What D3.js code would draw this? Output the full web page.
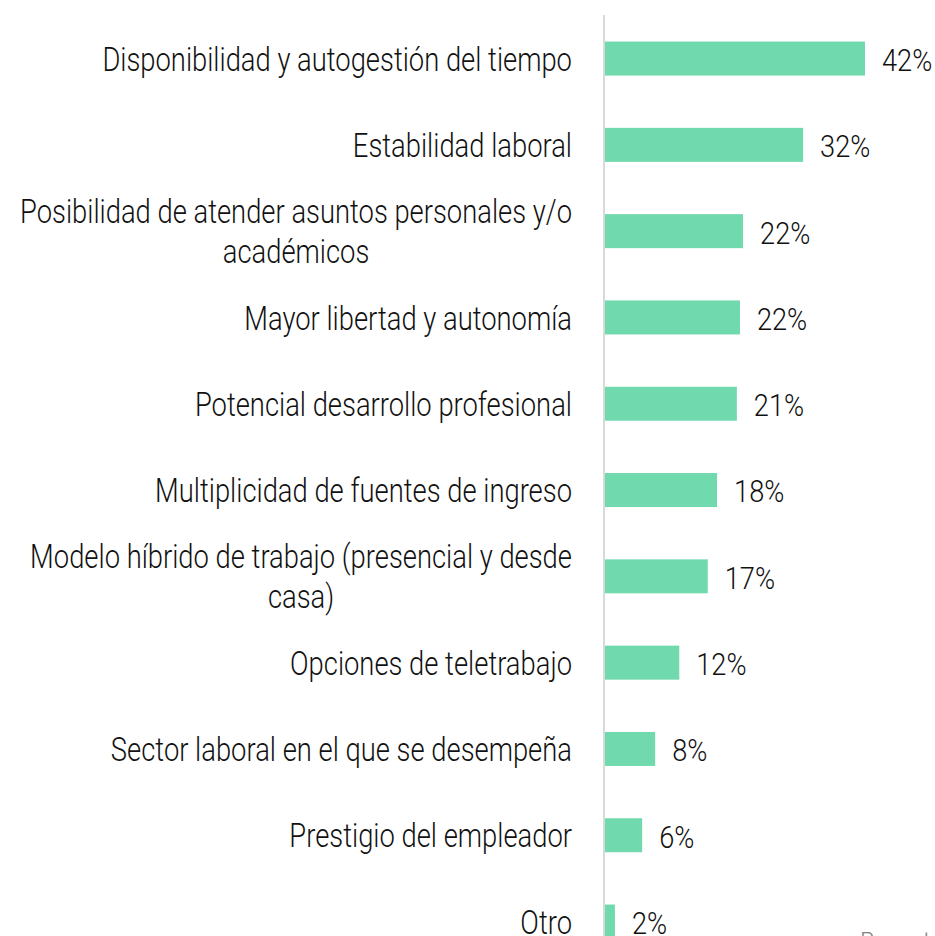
<!DOCTYPE html>
<html>
<head>
<meta charset="utf-8">
<script src="https://cdn.jsdelivr.net/npm/d3@7"></script>
<style>
  body { margin: 0; background: #fff; }
  svg text { font-family: Roboto, "Noto Sans", sans-serif; font-weight: 300; }
</style>
</head>
<body>
<div id="chart"></div>
<script>
var categories = [
    "Disponibilidad y autogestión del tiempo",
    "Estabilidad laboral",
    "Posibilidad de atender asuntos personales y/o académicos",
    "Mayor libertad y autonomía",
    "Potencial desarrollo profesional",
    "Multiplicidad de fuentes de ingreso",
    "Modelo híbrido de trabajo (presencial y desde casa)",
    "Opciones de teletrabajo",
    "Sector laboral en el que se desempeña",
    "Prestigio del empleador",
    "Otro"
];
var values = [42.0, 32.0, 22.3, 21.8, 21.3, 18.1, 16.6, 12.0, 8.1, 6.0, 1.6];
var footnote = "Base: total de encuestados";

var width = 935, height = 936;
var barColor = "#70d9ae";
var sx = 0.805;         // horizontal squeeze to imitate a condensed face
var sxVal = 0.85;
var labelSize = 34, valueSize = 32;

var data = categories.map(function(c, i) { return {cat: c, val: values[i]}; });

var svg = d3.select("#chart").append("svg")
    .attr("width", width)
    .attr("height", height);

var x = d3.scaleLinear()
    .domain([0, d3.max(values)])
    .range([605, 865]);

var y = d3.scaleBand()
    .domain(categories)
    .range([15.4, 964.7])
    .paddingInner(0.606)
    .paddingOuter(0.303);

// bars
svg.append("g").selectAll("rect")
    .data(data)
    .enter().append("rect")
    .attr("x", x(0))
    .attr("y", function(d) { return y(d.cat); })
    .attr("width", function(d) { return x(d.val) - x(0); })
    .attr("height", y.bandwidth())
    .attr("fill", barColor);

// axis line
svg.append("line")
    .attr("x1", 604).attr("x2", 604)
    .attr("y1", 15).attr("y2", height)
    .attr("stroke", "#d9d9d9")
    .attr("stroke-width", 2);

// value labels
var fmt = d3.format(".0f");
svg.append("g").selectAll("text")
    .data(data)
    .enter().append("text")
    .attr("transform", function(d) {
        return "translate(" + (x(d.val) + 17) + "," + (y(d.cat) + y.bandwidth() / 2 + 1) + ") scale(" + sxVal + ",1)";
    })
    .attr("dy", "0.355em")
    .attr("font-size", valueSize)
    .attr("fill", "#111")
    .text(function(d) { return fmt(d.val) + "%"; });

// category labels (wrapped, lines centred inside a right-aligned block)
var maxW = 560, lineH = 40;
var labels = svg.append("g").selectAll("text")
    .data(data)
    .enter().append("text")
    .attr("text-anchor", "middle")
    .attr("font-size", labelSize)
    .attr("fill", "#111");

labels.each(function(d) {
    var t = d3.select(this);
    var words = d.cat.split(" "), lines = [], cur = [];
    var probe = t.append("tspan");
    var len = function(s) { probe.text(s); return probe.node().getComputedTextLength(); };
    words.forEach(function(w) {
        cur.push(w);
        if (len(cur.join(" ")) * sx > maxW && cur.length > 1) {
            cur.pop();
            lines.push(cur.join(" "));
            cur = [w];
        }
    });
    lines.push(cur.join(" "));
    var blockW = d3.max(lines, len);
    probe.remove();
    var cy = y(d.cat) + y.bandwidth() / 2;
    t.attr("transform", "translate(572," + cy + ") scale(" + sx + ",1)");
    lines.forEach(function(l, i) {
        t.append("tspan")
            .attr("x", -blockW / 2)
            .attr("y", (i - (lines.length - 1) / 2) * lineH)
            .attr("dy", "0.355em")
            .text(l);
    });
});

// cut-off footnote at bottom right
svg.append("text")
    .attr("x", 860)
    .attr("y", 949)
    .attr("font-size", 24)
    .attr("fill", "#808080")
    .text(footnote);
</script>
</body>
</html>
